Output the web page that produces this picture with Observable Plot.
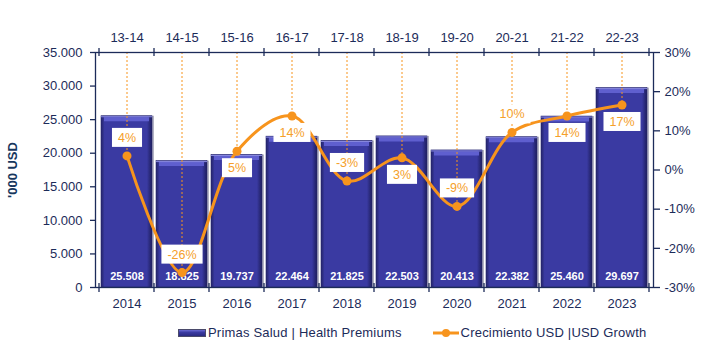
<!DOCTYPE html>
<html><head><meta charset="utf-8">
<script src="https://cdn.jsdelivr.net/npm/d3@7"></script>
<script src="https://cdn.jsdelivr.net/npm/@observablehq/plot@0.6"></script>
<style>
body{margin:0;background:#fff;font-family:"Liberation Sans",Arial,sans-serif;}
#chart{position:relative;width:701px;height:360px;overflow:hidden;}
#legend{position:absolute;top:325px;left:178px;display:flex;align-items:center;font-size:13px;letter-spacing:0.2px;color:#1c2b59;white-space:nowrap;}
</style></head><body><div id="chart"></div>
<script>
const years = ["2014","2015","2016","2017","2018","2019","2020","2021","2022","2023"];
const periods = ["13-14","14-15","15-16","16-17","17-18","18-19","19-20","20-21","21-22","22-23"];
const premiums = [25508,18825,19737,22464,21825,22503,20413,22382,25460,29697];
const growth = [0.036,-0.262,0.048,0.138,-0.028,0.031,-0.093,0.096,0.138,0.166];
const leftTicks = [0,5000,10000,15000,20000,25000,30000,35000];
const rightTicks = [-0.3,-0.2,-0.1,0,0.1,0.2,0.3];
const seriesNames = ["Primas Salud | Health Premiums","Crecimiento USD |USD Growth"];
const yLabel = "'000 USD";

const navy = "#1c2b59", orange = "#f7941d", labelOrange = "#f5a02a";
const ns = "http://www.w3.org/2000/svg";
const data = years.map((y,i)=>({year:y, period:periods[i], premium:premiums[i], growth:growth[i]}));
const toLeft = g => (g + 0.3) / 0.6 * 35000;
const fromLeft = v => v / 35000 * 0.6 - 0.3;
const fmtThousands = v => d3.format(",")(v).replace(/,/g,".");
const fmtPct = v => d3.format(".0%")(v).replace("\u2212","-");
const aboveSet = new Set(["2014","2015","2018","2020","2021"]);

function defs() {
  const d = document.createElementNS(ns,"defs");
  d.innerHTML = `<linearGradient id="barGrad" x1="0" x2="1" y1="0" y2="0">
    <stop offset="0" stop-color="#232368"/>
    <stop offset="0.07" stop-color="#3a3aa2"/>
    <stop offset="0.9" stop-color="#3a3aa2"/>
    <stop offset="1" stop-color="#1d1d5c"/></linearGradient>`;
  return d;
}
function boundaryTicks(index, scales, values, dims) {
  const x = scales.x;
  const step = x.step(), bw = x.bandwidth(), off = (step - bw) / 2;
  const xs = years.map(y => x(y) - off);
  xs.push(x(years[years.length-1]) + bw + off);
  const g = document.createElementNS(ns,"g");
  const yt = dims.marginTop, yb = dims.height - dims.marginBottom;
  for (const xv of xs) {
    for (const [a,b] of [[yt-4,yt+4],[yb-4,yb+5]]) {
      const l = document.createElementNS(ns,"line");
      l.setAttribute("x1",xv); l.setAttribute("x2",xv);
      l.setAttribute("y1",a); l.setAttribute("y2",b);
      l.setAttribute("stroke",navy); l.setAttribute("stroke-width",1.3);
      g.appendChild(l);
    }
  }
  return g;
}

const plot = Plot.plot({
  width: 701, height: 320,
  marginLeft: 95, marginRight: 48, marginTop: 52, marginBottom: 33,
  style: {fontFamily: "'Liberation Sans', Arial, sans-serif", fontSize: "13px", color: navy, background: "#fff"},
  x: {domain: years, paddingInner: 0.08, paddingOuter: 0.04, axis: null},
  y: {domain: [0, 35000], axis: null},
  marks: [
    defs,
    Plot.barY(data, {x: "year", y: "premium", fill: "#b4b4c4", dx: 2}),
    Plot.barY(data, {x: "year", y: "premium", fill: "url(#barGrad)", stroke: "#2a2a72", strokeWidth: 0.6}),
    Plot.tickY(data, {x: "year", y: "premium", stroke: "#5f5fcf", strokeWidth: 4, dy: 3, insetLeft: 3, insetRight: 3}),
    Plot.tickY(data, {x: "year", y: "premium", stroke: "#8a8ae0", strokeWidth: 1, dy: 0.5}),
    Plot.text(data, {x: "year", y: 0, text: d => fmtThousands(d.premium), dy: -11, fill: "white", fontWeight: "bold", fontSize: 11}),
    Plot.ruleX(data, {x: "year", y1: toLeft(0.3), y2: d => toLeft(d.growth), stroke: orange, strokeWidth: 1, strokeDasharray: "2,2"}),
    Plot.line(data, {x: "year", y: d => toLeft(d.growth), curve: "catmull-rom", stroke: orange, strokeWidth: 3}),
    Plot.dot(data, {x: "year", y: d => toLeft(d.growth), r: 4.5, fill: orange}),
    Plot.text(data.filter(d => aboveSet.has(d.year)), {x: "year", y: d => toLeft(d.growth), text: d => fmtPct(d.growth), dy: -18, fill: labelOrange, fontSize: 12.5}),
    Plot.text(data.filter(d => !aboveSet.has(d.year)), {x: "year", y: d => toLeft(d.growth), text: d => fmtPct(d.growth), dy: 17, fill: labelOrange, fontSize: 12.5}),
    Plot.frame({stroke: navy, strokeWidth: 1.3}),
    Plot.axisY({anchor: "left", ticks: leftTicks, tickFormat: fmtThousands, tickSize: 5, tickPadding: 8, label: null, stroke: navy, fill: navy, strokeWidth: 1.3}),
    Plot.axisY({anchor: "right", ticks: rightTicks.map(toLeft), tickFormat: v => fmtPct(Math.round(fromLeft(v)*10)/10), tickSize: 6, tickPadding: 5, label: null, stroke: navy, fill: navy, strokeWidth: 1.3}),
    Plot.axisX({anchor: "bottom", tickSize: 0, tickPadding: 11, label: null, fill: navy}),
    Plot.axisX({anchor: "top", tickSize: 0, tickPadding: 11, label: null, fill: navy, tickFormat: d => periods[years.indexOf(d)]}),
    boundaryTicks,
    Plot.text([yLabel], {frameAnchor: "left", dx: -83, rotate: -90, textAnchor: "middle", text: d => d, fill: "#17375e", fontWeight: "bold", fontSize: 13})
  ]
});
const chart = document.getElementById("chart");
chart.appendChild(plot);

// white boxes behind growth labels
plot.querySelectorAll(`g[fill="${labelOrange}"] text`).forEach(t => {
  const b = t.getBBox();
  const r = document.createElementNS(ns,"rect");
  r.setAttribute("x", b.x - 6); r.setAttribute("y", b.y - 3);
  r.setAttribute("width", b.width + 12); r.setAttribute("height", b.height + 5);
  r.setAttribute("fill", "white"); r.setAttribute("stroke", "none");
  if (t.getAttribute("transform")) r.setAttribute("transform", t.getAttribute("transform"));
  t.parentNode.insertBefore(r, t);
});

// legend
const lg = document.createElement("div");
lg.id = "legend";
lg.innerHTML = `<span style="display:inline-block;width:26px;height:6px;background:linear-gradient(#6a6ad2,#3a3aa2 40%,#2a2a80);border:1px solid #4a4a6a"></span>
<span style="margin-left:2px">${seriesNames[0]}</span>
<svg width="26" height="12" style="margin-left:31px"><line x1="0" x2="26" y1="6" y2="6" stroke="${orange}" stroke-width="3"/><circle cx="13" cy="6" r="4" fill="${orange}"/></svg>
<span style="margin-left:2px">${seriesNames[1]}</span>`;
chart.appendChild(lg);
</script>
</body></html>
